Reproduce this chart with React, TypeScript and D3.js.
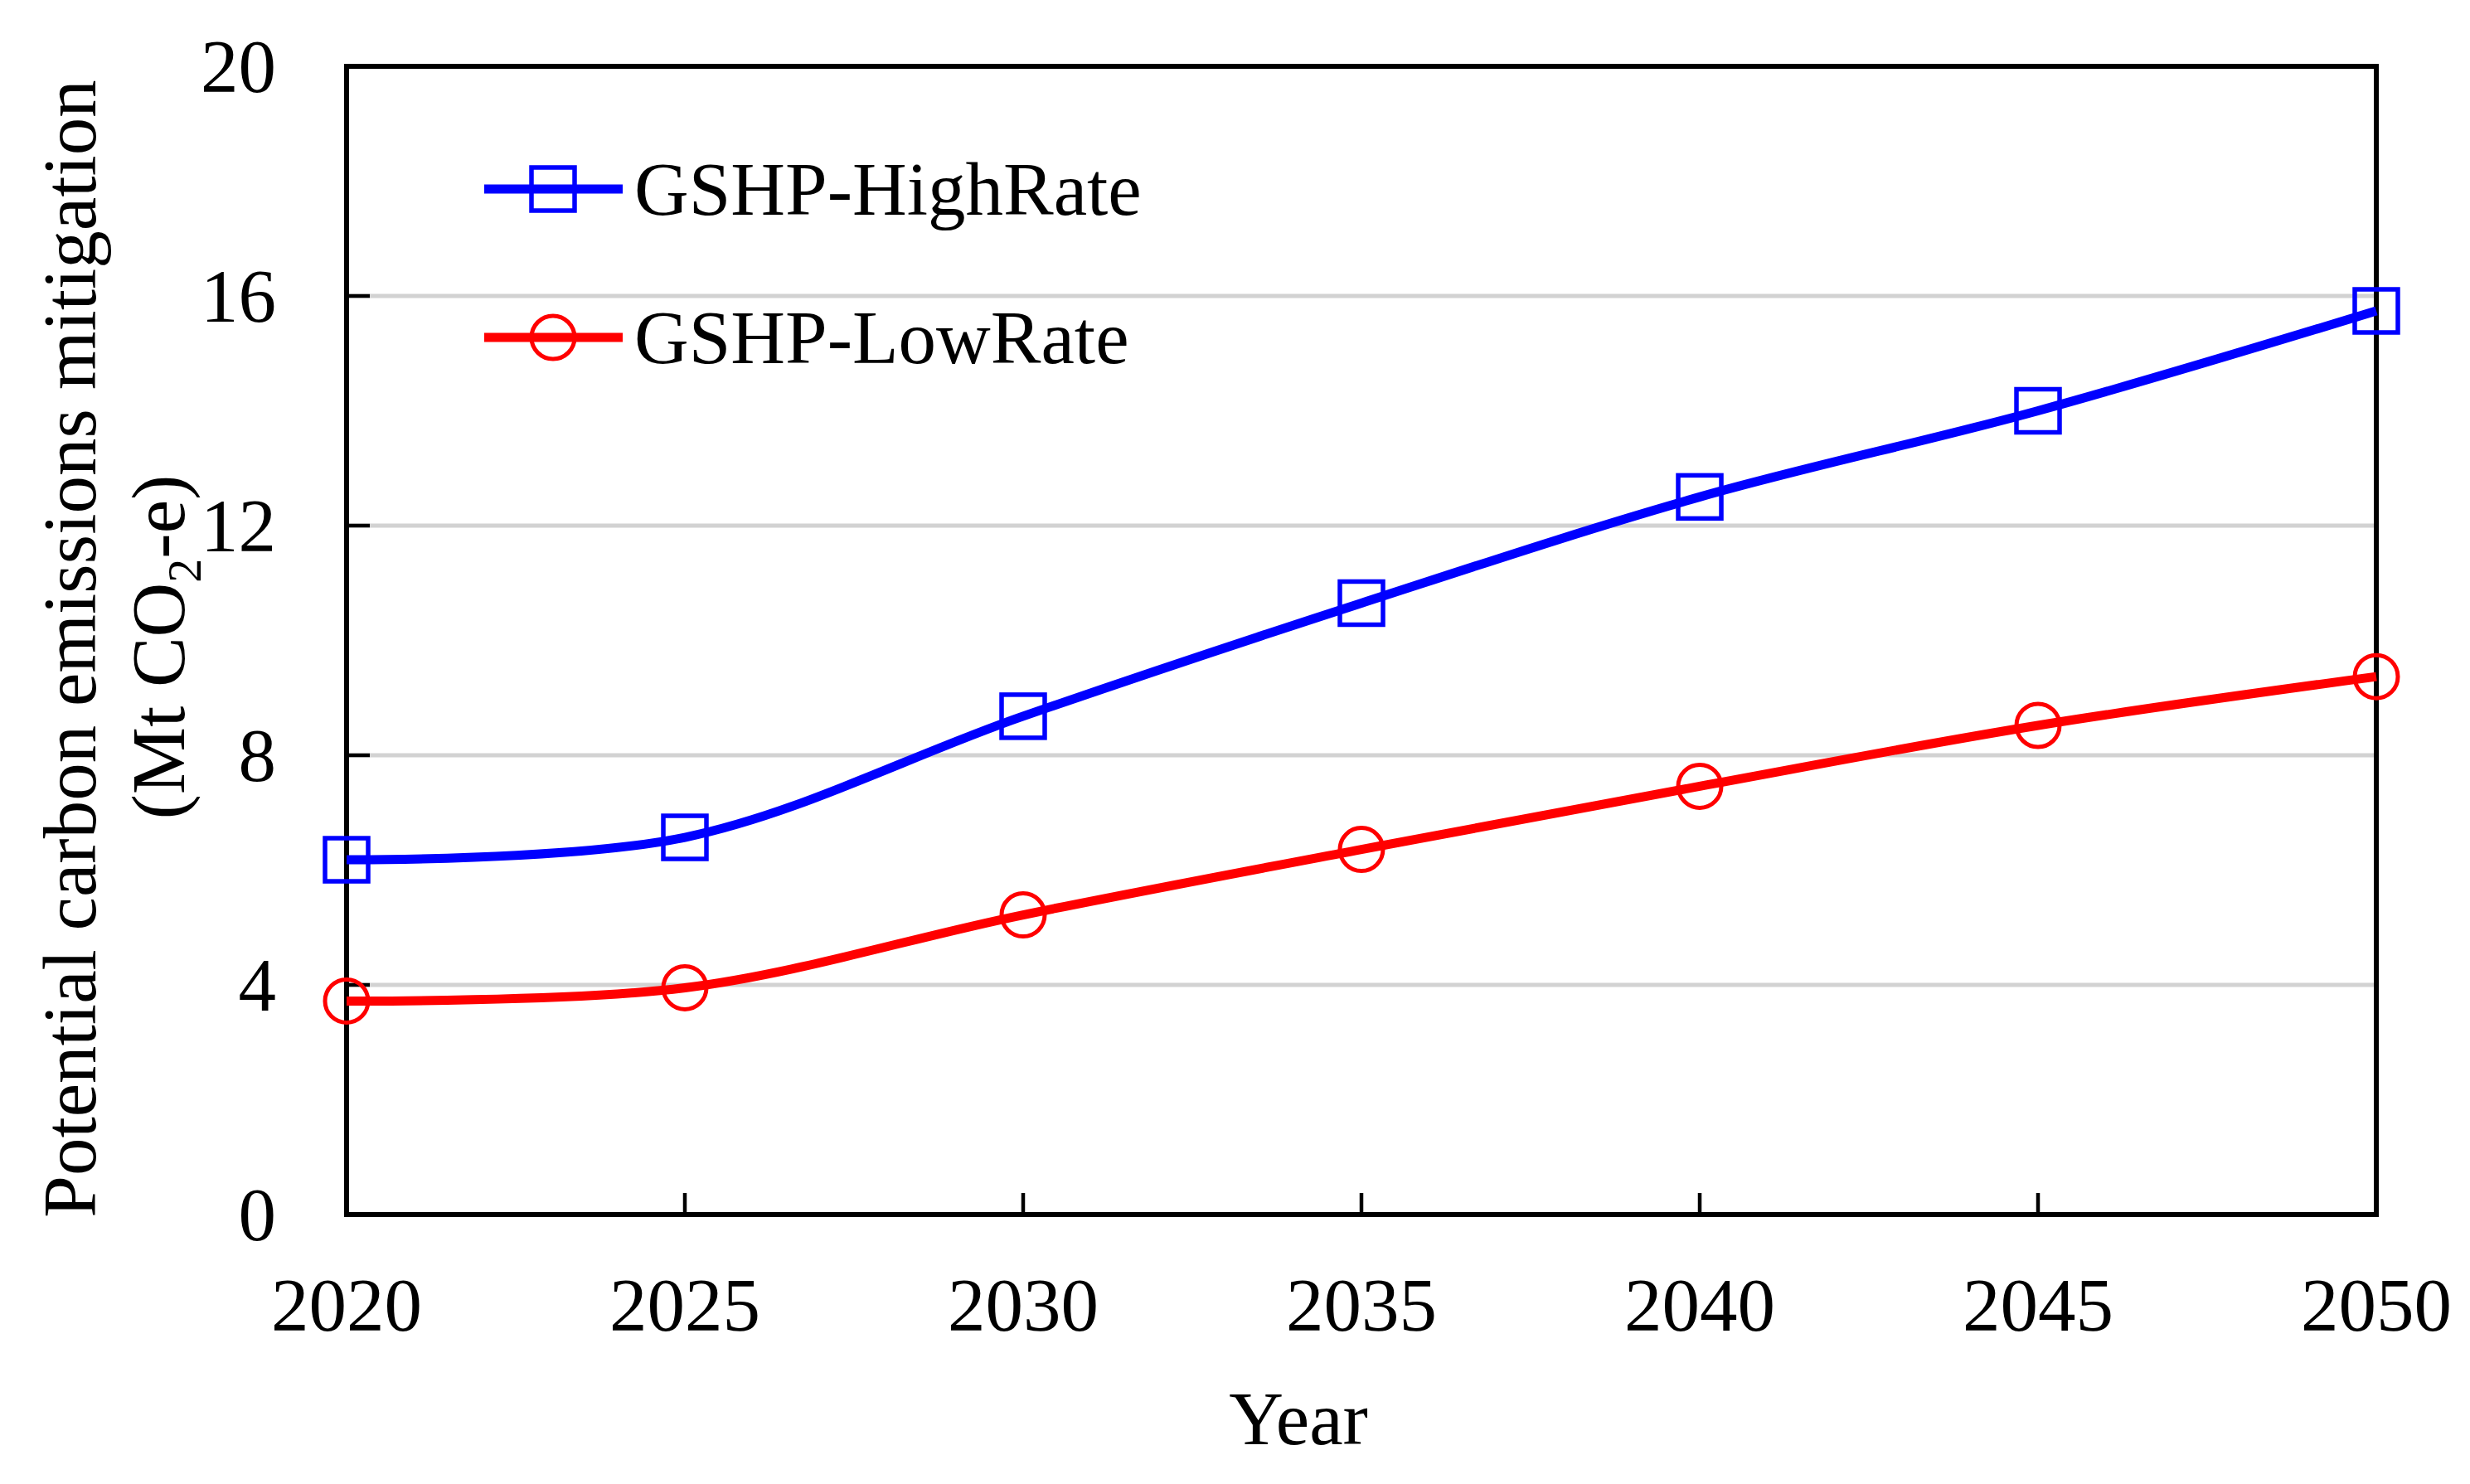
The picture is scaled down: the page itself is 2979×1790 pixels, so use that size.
import * as d3 from "d3";

const YEARS = [2020, 2025, 2030, 2035, 2040, 2045, 2050];
const HIGH_RATE = [6.18, 6.57, 8.68, 10.65, 12.5, 14.0, 15.74];
const LOW_RATE = [3.72, 3.95, 5.22, 6.36, 7.46, 8.52, 9.37];
const Y_TICKS = [0, 4, 8, 12, 16, 20];
const SERIES_NAMES = ["GSHP-HighRate", "GSHP-LowRate"];

const W = 2979;
const H = 1790;
const FONT = "'Liberation Serif', 'Times New Roman', serif";

export default function App() {
  const margin = { left: 418, right: 2866, top: 80, bottom: 1465 };

  const x = d3.scaleLinear().domain([2020, 2050]).range([margin.left, margin.right]);
  const y = d3.scaleLinear().domain([0, 20]).range([margin.bottom, margin.top]);

  const line = d3
    .line<number>()
    .x((_, i) => x(YEARS[i]))
    .y((d) => y(d))
    .curve(d3.curveCatmullRom.alpha(0.5));

  const blue = "#0000ff";
  const red = "#ff0000";

  return (
    <svg
      width={W}
      height={H}
      style={{ position: "absolute", left: 0, top: 0, background: "#fff" }}
      fontFamily={FONT}
    >
      {/* gridlines */}
      {Y_TICKS.filter((t) => t > 0 && t < 20).map((t) => (
        <line
          key={"g" + t}
          x1={margin.left}
          x2={margin.right}
          y1={y(t)}
          y2={y(t)}
          stroke="#d2d2d2"
          strokeWidth={5}
        />
      ))}

      {/* y ticks (inward) and labels */}
      {Y_TICKS.map((t) => (
        <g key={"y" + t}>
          {t > 0 && t < 20 && (
            <line x1={margin.left} x2={margin.left + 28} y1={y(t)} y2={y(t)} stroke="#000" strokeWidth={4.5} />
          )}
          <text x={333} y={y(t)} dy="0.34em" textAnchor="end" fontSize={91} fill="#000">
            {t}
          </text>
        </g>
      ))}

      {/* x ticks (inward) and labels */}
      {YEARS.map((yr) => (
        <g key={"x" + yr}>
          {yr > 2020 && yr < 2050 && (
            <line x1={x(yr)} x2={x(yr)} y1={margin.bottom} y2={margin.bottom - 26} stroke="#000" strokeWidth={4.5} />
          )}
          <text x={x(yr)} y={1605} textAnchor="middle" fontSize={91} fill="#000">
            {yr}
          </text>
        </g>
      ))}

      {/* frame */}
      <rect
        x={margin.left}
        y={margin.top}
        width={margin.right - margin.left}
        height={margin.bottom - margin.top}
        fill="none"
        stroke="#000"
        strokeWidth={6}
      />

      {/* series lines */}
      <path d={line(HIGH_RATE) ?? ""} fill="none" stroke={blue} strokeWidth={11} />
      <path d={line(LOW_RATE) ?? ""} fill="none" stroke={red} strokeWidth={11} />

      {/* markers */}
      {HIGH_RATE.map((v, i) => (
        <rect
          key={"hm" + i}
          x={x(YEARS[i]) - 26}
          y={y(v) - 26}
          width={52}
          height={52}
          fill="none"
          stroke={blue}
          strokeWidth={5.5}
        />
      ))}
      {LOW_RATE.map((v, i) => (
        <circle key={"lm" + i} cx={x(YEARS[i])} cy={y(v)} r={26} fill="none" stroke={red} strokeWidth={5} />
      ))}

      {/* legend */}
      <g>
        <line x1={584} x2={751} y1={228} y2={228} stroke={blue} strokeWidth={11} />
        <rect x={667 - 26} y={228 - 26} width={52} height={52} fill="none" stroke={blue} strokeWidth={5.5} />
        <text x={765} y={228} dy="0.34em" fontSize={91} fill="#000">
          {SERIES_NAMES[0]}
        </text>
        <line x1={584} x2={751} y1={407} y2={407} stroke={red} strokeWidth={11} />
        <circle cx={667} cy={407} r={26} fill="none" stroke={red} strokeWidth={5} />
        <text x={765} y={407} dy="0.34em" fontSize={91} fill="#000">
          {SERIES_NAMES[1]}
        </text>
      </g>

      {/* axis titles */}
      <text x={1566} y={1742} textAnchor="middle" fontSize={91} fill="#000">
        Year
      </text>
      <text
        transform={`translate(115, ${(margin.top + margin.bottom) / 2 + 10}) rotate(-90)`}
        textAnchor="middle"
        fontSize={91}
        fill="#000"
      >
        Potential carbon emissions mitigation
      </text>
      <text
        transform={`translate(222, ${(margin.top + margin.bottom) / 2 + 8}) rotate(-90)`}
        textAnchor="middle"
        fontSize={91}
        fill="#000"
      >
        (Mt CO
        <tspan fontSize={58} dy={20}>
          2
        </tspan>
        <tspan dy={-20}>-e)</tspan>
      </text>
    </svg>
  );
}
